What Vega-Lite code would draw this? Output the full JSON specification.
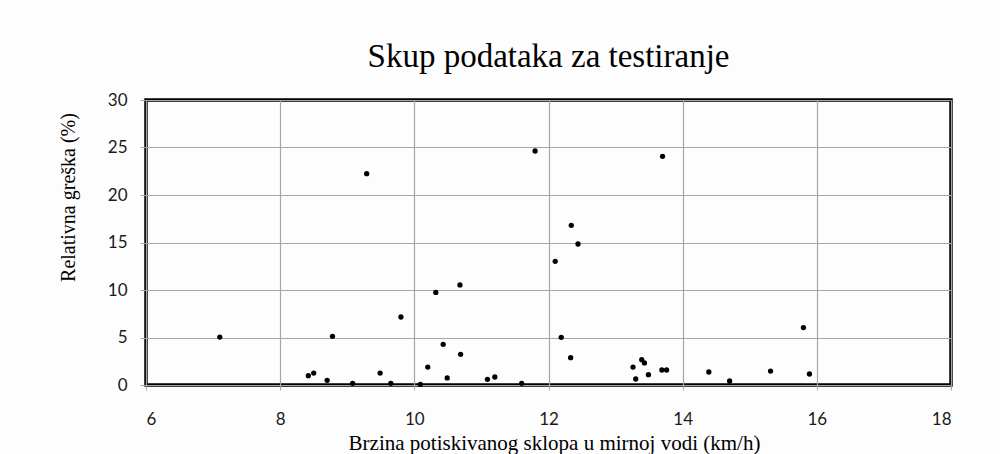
{
  "$schema": "https://vega.github.io/schema/vega-lite/v6.json",
  "autosize": "none",
  "width": 805,
  "height": 285,
  "padding": {"left": 146, "top": 100, "right": 49, "bottom": 69},
  "background": "#fdfdfd",
  "title": {
    "text": "Skup podataka za testiranje",
    "font": "Liberation Serif",
    "fontSize": 33,
    "fontWeight": "normal",
    "color": "#000000",
    "anchor": "middle",
    "offset": 17
  },
  "config": {
    "view": {"stroke": "#000000", "strokeWidth": 3.5},
    "axis": {
      "gridColor": "#a6a6a6",
      "gridWidth": 1.2,
      "tickColor": "#a6a6a6",
      "domain": false,
      "labelFont": "Lato",
      "labelFontSize": 17,
      "labelColor": "#1a1a1a",
      "titleFont": "Liberation Serif",
      "titleFontSize": 20,
      "titleFontWeight": "normal",
      "titleColor": "#000000"
    }
  },
  "data": {
    "values": [
      {"speed": 7.10, "error": 5.05},
      {"speed": 8.42, "error": 0.98},
      {"speed": 8.50, "error": 1.26},
      {"speed": 8.70, "error": 0.49},
      {"speed": 8.78, "error": 5.12},
      {"speed": 9.08, "error": 0.18},
      {"speed": 9.29, "error": 22.24},
      {"speed": 9.49, "error": 1.26},
      {"speed": 9.65, "error": 0.18},
      {"speed": 9.80, "error": 7.16},
      {"speed": 10.09, "error": 0.07},
      {"speed": 10.20, "error": 1.89},
      {"speed": 10.32, "error": 9.75},
      {"speed": 10.43, "error": 4.28},
      {"speed": 10.49, "error": 0.74},
      {"speed": 10.68, "error": 10.53},
      {"speed": 10.69, "error": 3.23},
      {"speed": 11.09, "error": 0.60},
      {"speed": 11.20, "error": 0.84},
      {"speed": 11.60, "error": 0.18},
      {"speed": 11.80, "error": 24.63},
      {"speed": 12.10, "error": 13.02},
      {"speed": 12.19, "error": 5.02},
      {"speed": 12.33, "error": 2.88},
      {"speed": 12.34, "error": 16.81},
      {"speed": 12.44, "error": 14.84},
      {"speed": 13.26, "error": 1.89},
      {"speed": 13.30, "error": 0.63},
      {"speed": 13.39, "error": 2.67},
      {"speed": 13.43, "error": 2.32},
      {"speed": 13.49, "error": 1.09},
      {"speed": 13.69, "error": 1.58},
      {"speed": 13.70, "error": 24.07},
      {"speed": 13.76, "error": 1.58},
      {"speed": 14.39, "error": 1.37},
      {"speed": 14.70, "error": 0.42},
      {"speed": 15.31, "error": 1.47},
      {"speed": 15.80, "error": 6.04},
      {"speed": 15.89, "error": 1.16}
    ]
  },
  "mark": {"type": "point", "filled": true, "shape": "circle", "color": "#000000", "size": 28, "opacity": 1},
  "encoding": {
    "x": {
      "field": "speed",
      "type": "quantitative",
      "scale": {"domain": [6, 18], "nice": false, "zero": false},
      "axis": {
        "values": [6, 8, 10, 12, 14, 16, 18],
        "tickSize": 5,
        "labelPadding": 29,
        "labelBaseline": "middle",
        "title": "Brzina potiskivanog sklopa u mirnoj vodi (km/h)",
        "titleX": 408,
        "titleY": 64,
        "titleAnchor": "middle",
        "titleAlign": "center",
        "titleBaseline": "alphabetic",
        "titleFontSize": 21
      }
    },
    "y": {
      "field": "error",
      "type": "quantitative",
      "scale": {"domain": [0, 30], "nice": false},
      "axis": {
        "values": [0, 5, 10, 15, 20, 25, 30],
        "tickSize": 6,
        "labelPadding": 13,
        "title": "Relativna greška (%)",
        "titleAngle": -90,
        "titleX": -78,
        "titleY": 97,
        "titleAlign": "center",
        "titleBaseline": "middle"
      }
    }
  }
}
